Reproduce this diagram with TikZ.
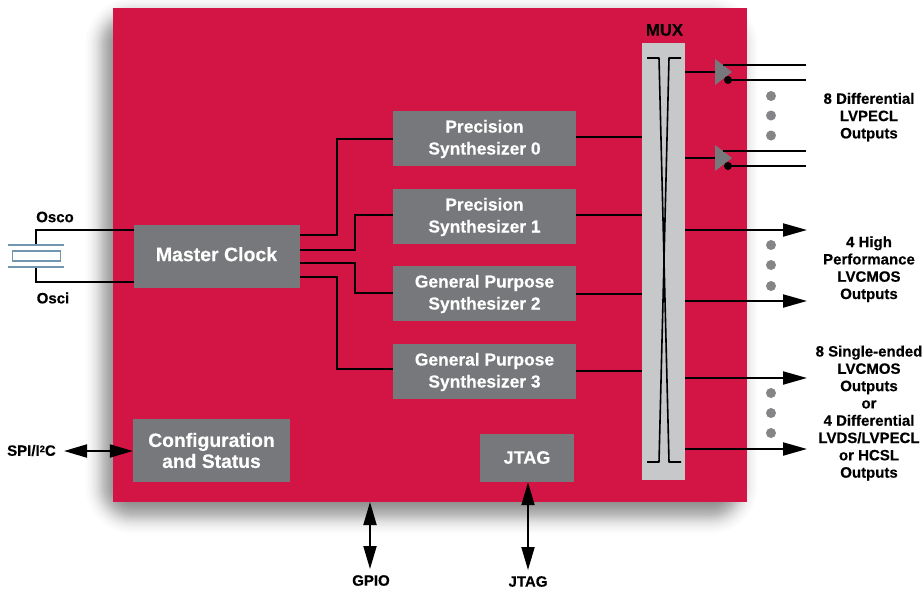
\documentclass[tikz,border=0pt]{standalone}
\usepackage{fontspec}
\setmainfont[BoldFeatures={FakeBold=0.35}]{Liberation Sans}
\usetikzlibrary{arrows.meta}
\definecolor{chipred}{HTML}{D31545}
\definecolor{boxgrey}{HTML}{77787B}
\definecolor{muxgrey}{HTML}{C7C8CA}
\definecolor{xtal}{HTML}{7096B0}
\tikzset{
  gbox/.style={fill=boxgrey,inner sep=0pt},
  boxtext/.style={inner sep=0pt,align=center,text=white,font=\bfseries\fontsize{17.4}{22}\selectfont},
  lab/.style={inner sep=0pt,align=center,text=black,font=\bfseries\fontsize{15}{17.3}\selectfont},
  wire/.style={draw=black,line width=2pt},
  thinx/.style={draw=black,line width=1.6pt},
  outarrow/.style={wire,-{Triangle[length=24pt,width=13pt]}},
  bothway/.style={wire,{Triangle[length=23pt,width=13pt]}-{Triangle[length=23pt,width=13pt]}},
  gdot/.style={fill=boxgrey!90!white},
  plate/.style={draw=xtal,line width=1.5pt}
}
\begin{document}
\begin{tikzpicture}[x=1pt,y=-1pt]
\useasboundingbox (0,0) rectangle (923,590);
\fill[white] (0,0) rectangle (923,590);
% soft shadow
\begin{scope}
\clip (0,0) rectangle (923,590);
\foreach \i in {2,...,39}{
  \pgfmathsetmacro{\t}{(\i+0.5)/20-1}
  \pgfmathsetmacro{\d}{-13*ln((1+\t)/(1-\t))/1.8}
  \pgfmathsetmacro{\r}{max(1,\d+28)}
  \fill[black,fill opacity=0.0145,rounded corners=\r pt] (105-\d,17-\d) rectangle (738+\d,514+\d);
}
\end{scope}
% chip
\node[fill=chipred,inner sep=0pt,minimum width=634pt,minimum height=494pt] (chip) at (430,255) {};
% blocks
\node[gbox,minimum width=166pt,minimum height=63pt] (mc) at (217,256.5) {};
\node[boxtext,font=\bfseries\fontsize{19.5}{22}\selectfont] (mct) at (216.5,254.2) {Master Clock};
\node[gbox,minimum width=183pt,minimum height=55pt] (s0) at (484.5,138.5) {};
\node[boxtext] (s0t) at (484.5,139) {Precision\\Synthesizer 0};
\node[gbox,minimum width=183pt,minimum height=55pt] (s1) at (484.5,216.5) {};
\node[boxtext] (s1t) at (484.5,217) {Precision\\Synthesizer 1};
\node[gbox,minimum width=183pt,minimum height=55pt] (s2) at (484.5,293.5) {};
\node[boxtext] (s2t) at (484.5,294) {General Purpose\\Synthesizer 2};
\node[gbox,minimum width=183pt,minimum height=55pt] (s3) at (484.5,371.5) {};
\node[boxtext] (s3t) at (484.5,372) {General Purpose\\Synthesizer 3};
\node[gbox,minimum width=157pt,minimum height=63pt] (cfg) at (211.5,450.5) {};
\node[boxtext,font=\bfseries\fontsize{19.3}{21}\selectfont] (cfgt) at (211.5,450.5) {Configuration\\and Status};
\node[gbox,minimum width=94pt,minimum height=48pt] (jt) at (527,458) {};
\node[boxtext,font=\bfseries\fontsize{18}{22}\selectfont] (jtt) at (527,457.5) {JTAG};
\node[fill=muxgrey,inner sep=0pt,minimum width=43pt,minimum height=437pt] (mux) at (663.5,261.5) {};
\node[lab,font=\bfseries\fontsize{16.7}{18}\selectfont] (muxl) at (664.5,30) {MUX};
% coordinates
\coordinate (m1) at (300,235);
\coordinate (m2) at (300,250);
\coordinate (m3) at (300,263);
\coordinate (m4) at (300,277);
\coordinate (s0e) at (393,139);
\coordinate (s1e) at (393,215);
\coordinate (s2e) at (393,293);
\coordinate (s3e) at (393,369);
% clock wires
\draw[wire] (m1) -- ++(37,0) |- (s0e);
\draw[wire] (m2) -- ++(55,0) |- (s1e);
\draw[wire] (m3) -- ++(55,0) |- (s2e);
\draw[wire] (m4) -- ++(37,0) |- (s3e);
% synth to mux
\coordinate (mi0) at (642,137);
\coordinate (mi1) at (642,215);
\coordinate (mi2) at (642,294);
\coordinate (mi3) at (642,371);
\draw[wire] (mi0 -| s0.east) -- (mi0);
\draw[wire] (mi1 -| s1.east) -- (mi1);
\draw[wire] (mi2 -| s2.east) -- (mi2);
\draw[wire] (mi3 -| s3.east) -- (mi3);
% mux crossing
\coordinate (tl) at (659,58);
\coordinate (tr) at (669,58);
\coordinate (bl) at (659,462);
\coordinate (br) at (669,462);
\draw[thinx,miter limit=1] (647,58) -- (tl) -- (br) -- (681,462);
\draw[thinx,miter limit=1] (681,58) -- (tr) -- (bl) -- (647,462);
% buffers
\coordinate (b1) at (715,72);
\coordinate (b2) at (715,158);
\draw[wire] (685,72) -- (b1);
\draw[wire] (685,158) -- (b2);
\fill[boxgrey] (715,59) -- (732,72) -- (715,85) -- cycle;
\fill[boxgrey] (715,145) -- (732,158) -- (715,171) -- cycle;
\coordinate (o1a) at (806,65);
\coordinate (o1b) at (806,80);
\coordinate (o2a) at (806,151);
\coordinate (o2b) at (806,166);
\coordinate (d1) at (728,80);
\coordinate (d2) at (728,166);
\draw[wire] (723,65) -- (o1a);
\draw[wire] (d1) -- (o1b);
\draw[wire] (723,151) -- (o2a);
\draw[wire] (d2) -- (o2b);
\fill[black] (d1) circle (4);
\fill[black] (d2) circle (4);
% output arrows
\coordinate (a1) at (807,230);
\coordinate (a2) at (807,301);
\coordinate (a3) at (807,378);
\coordinate (a4) at (807,449);
\draw[outarrow] (a1 -| mux.east) -- (a1);
\draw[outarrow] (a2 -| mux.east) -- (a2);
\draw[outarrow] (a3 -| mux.east) -- (a3);
\draw[outarrow] (a4 -| mux.east) -- (a4);
% dots
\foreach \y in {96,115.5,135.5,245,265,286,393,413,433}
  \fill[gdot] (771,\y) circle (5);
% crystal
\coordinate (xa) at (36,245);
\coordinate (xb) at (36,267);
\draw[wire] (xa) -- (36,230) -- (mc.west |- 0,230);
\draw[wire] (xb) -- (36,282) -- (mc.west |- 0,282);
\draw[plate] (8,245) -- (64,245);
\draw[plate] (8,267) -- (64,267);
\draw[plate,fill=white] (12.5,251) rectangle (60.5,261);
\node[lab] (osco) at (55,217) {Osco};
\node[lab] (osci) at (53,298) {Osci};
% bidirectional
\coordinate (spi) at (64,451);
\coordinate (gp1) at (370,502);
\coordinate (gp2) at (370,569);
\coordinate (jt2) at (528,570);
\draw[bothway] (spi) -- (spi -| cfg.west);
\draw[bothway] (gp1) -- (gp2);
\draw[bothway] (jt2 |- jt.south) -- (jt2);
\node[lab] (spil) at (31.5,450.5) {SPI/I\raisebox{0.45ex}{\fontsize{9.5}{10}\selectfont 2}C};
\node[lab] (gpio) at (371,580.5) {GPIO};
\node[lab] (jtag) at (528,581.5) {JTAG};
% output labels
\node[lab] (l1) at (869,117.2) {8 Differential\\LVPECL\\Outputs};
\node[lab] (l2) at (869,269.2) {4 High\\Performance\\LVCMOS\\Outputs};
\node[lab] (l3) at (869,413.2) {8 Single-ended\\LVCMOS\\Outputs\\or\\4 Differential\\LVDS/LVPECL\\or HCSL\\Outputs};
\end{tikzpicture}
\end{document}
